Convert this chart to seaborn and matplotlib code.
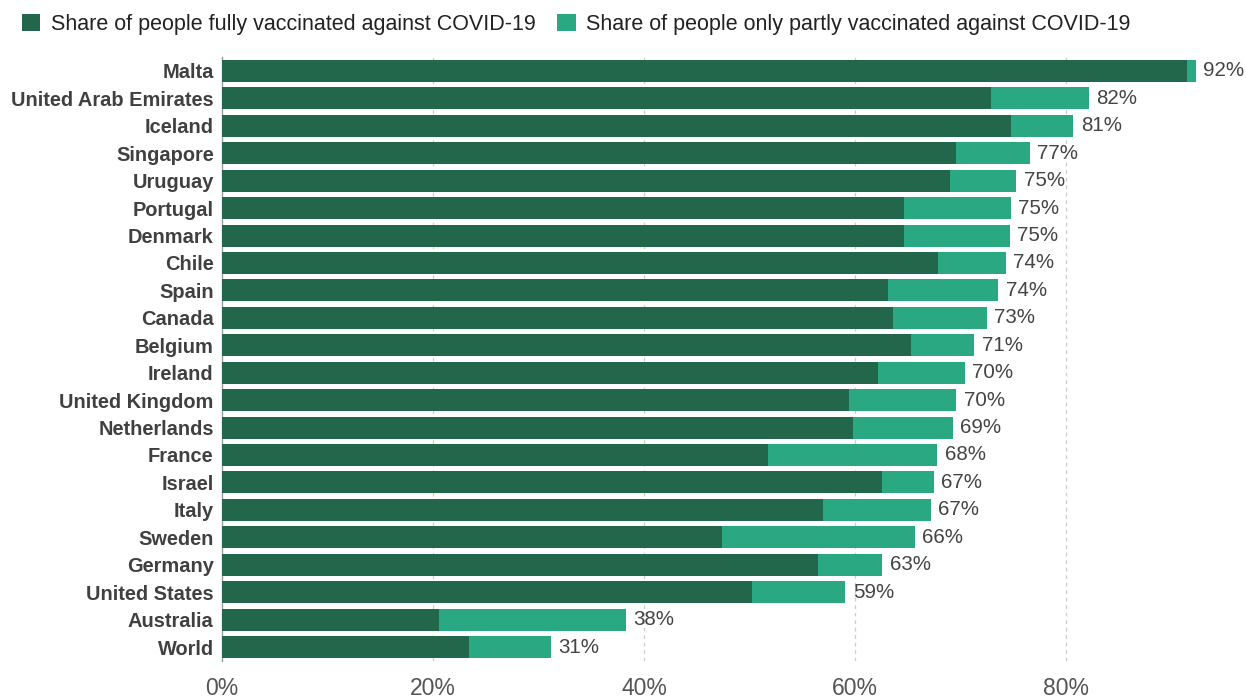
import matplotlib
matplotlib.use("Agg")
import matplotlib.pyplot as plt
from matplotlib.patches import Patch
import seaborn as sns
import pandas as pd

countries = ["Malta", "United Arab Emirates", "Iceland", "Singapore", "Uruguay", "Portugal",
             "Denmark", "Chile", "Spain", "Canada", "Belgium", "Ireland", "United Kingdom",
             "Netherlands", "France", "Israel", "Italy", "Sweden", "Germany", "United States",
             "Australia", "World"]
fully = [91.5, 72.9, 74.8, 69.6, 69.0, 64.6, 64.6, 67.9, 63.1, 63.6, 65.3, 62.2, 59.4,
         59.8, 51.8, 62.6, 57.0, 47.4, 56.5, 50.2, 20.6, 23.4]
total = [92.3, 82.2, 80.7, 76.6, 75.3, 74.8, 74.7, 74.3, 73.6, 72.5, 71.3, 70.4, 69.6,
         69.3, 67.8, 67.5, 67.2, 65.7, 62.6, 59.1, 38.3, 31.2]
total_labels = ["92%", "82%", "81%", "77%", "75%", "75%", "75%", "74%", "74%", "73%", "71%",
                "70%", "70%", "69%", "68%", "67%", "67%", "66%", "63%", "59%", "38%", "31%"]
xticks = [0, 20, 40, 60, 80]
xtick_labels = ["0%", "20%", "40%", "60%", "80%"]
legend_labels = ["Share of people fully vaccinated against COVID-19",
                 "Share of people only partly vaccinated against COVID-19"]

DARK = "#22664c"
LIGHT = "#2aa882"

df = pd.DataFrame({"country": countries, "fully": fully, "total": total})

sns.set_theme(style="white")
plt.rcParams["font.family"] = ["Liberation Sans", "DejaVu Sans"]

fig = plt.figure(figsize=(12.46, 6.98), dpi=100)
ax = fig.add_axes([0.1782, 0.0534, 0.817, 0.8646])

sns.barplot(data=df, x="total", y="country", color=LIGHT, saturation=1, width=0.8,
            ax=ax, zorder=3, edgecolor="none")
sns.barplot(data=df, x="fully", y="country", color=DARK, saturation=1, width=0.8,
            ax=ax, zorder=4, edgecolor="none")

ax.set_xlim(0, 96.5)
ax.set_ylim(len(countries) - 0.5, -0.5)
ax.set_xlabel("")
ax.set_ylabel("")

for i, (t, lab) in enumerate(zip(total, total_labels)):
    ax.text(t + 0.7, i, lab, va="center", ha="left", fontsize=14.8, color="#444444", zorder=5)

ax.set_xticks(xticks)
ax.set_xticklabels(xtick_labels, fontsize=16.5, color="#555555")
ax.tick_params(axis="x", length=0, pad=12)
ax.tick_params(axis="y", length=0, pad=6)
for lbl in ax.get_yticklabels():
    lbl.set_fontsize(14.4)
    lbl.set_fontweight("bold")
    lbl.set_color("#404040")

for x in xticks[1:]:
    ax.axvline(x, color="#cccccc", linestyle=(0, (3, 3)), linewidth=0.9, zorder=1)

for s in ["top", "right", "bottom"]:
    ax.spines[s].set_visible(False)
ax.spines["left"].set_color("#999999")
ax.spines["left"].set_linewidth(1.0)

handles = [Patch(facecolor=DARK, edgecolor="none"), Patch(facecolor=LIGHT, edgecolor="none")]
fig.legend(handles, legend_labels, loc="upper left", bbox_to_anchor=(0.002, 1.008), ncol=2,
           frameon=False, fontsize=15.5, handlelength=0.85, handleheight=0.85,
           handletextpad=0.5, columnspacing=1.0, labelcolor="#222222")

fig.savefig("out.png", dpi=100)
